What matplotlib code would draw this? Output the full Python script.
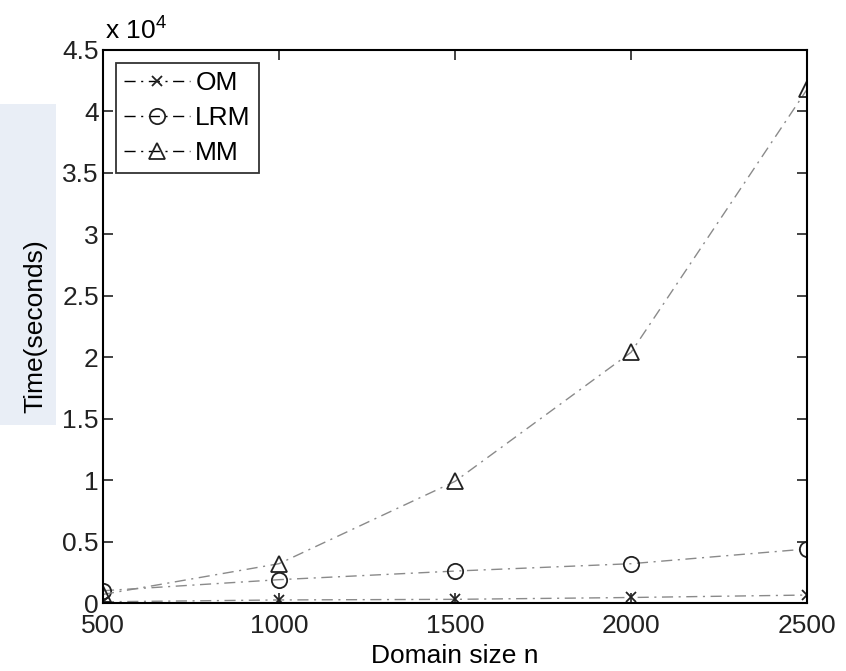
import numpy as np
import matplotlib.pyplot as plt
from matplotlib.patches import Rectangle
from matplotlib.ticker import FuncFormatter

plt.rcParams['font.family'] = ['Liberation Sans', 'DejaVu Sans']
plt.rcParams['mathtext.fontset'] = 'custom'
plt.rcParams['mathtext.rm'] = 'Liberation Sans'
plt.rcParams['mathtext.it'] = 'Liberation Sans'

n = [500, 1000, 1500, 2000, 2500]
om = [100, 250, 300, 450, 650]
lrm = [1000, 1900, 2600, 3200, 4400]
mm = [700, 3200, 9900, 20400, 41800]

fig = plt.figure(figsize=(8.46, 6.71), dpi=100)

# faint watermark band on the left side
band = Rectangle((0, 1 - 425 / 671), 0.066, (425 - 104) / 671,
                 transform=fig.transFigure, facecolor='#e9eef6',
                 edgecolor='none', zorder=-5)
fig.patches.append(band)

ax = fig.add_axes([0.1217, 0.1013, 0.8323, 0.8242])
ax.patch.set_alpha(0)

lc = '#8a8a8a'
dd = (8, 4, 1.5, 4)
ax.plot(n, om, linestyle='-.', dashes=dd, color=lc, lw=1.0, marker='x', ms=7,
        mec='#222222', mew=1.3, label='OM')
ax.plot(n, lrm, linestyle='-.', dashes=dd, color=lc, lw=1.0, marker='o', ms=11,
        mec='#222222', mfc='none', mew=1.3, label='LRM')
ax.plot(n, mm, linestyle='-.', dashes=dd, color=lc, lw=1.0, marker='^', ms=11,
        mec='#222222', mfc='none', mew=1.3, label='MM')

ax.set_xlim(500, 2500)
ax.set_ylim(0, 45000)
ax.set_xticks(n)
ax.set_yticks(np.arange(0, 45001, 5000))
ax.yaxis.set_major_formatter(FuncFormatter(lambda v, p: ('%g' % (v / 1e4))))
ax.tick_params(direction='in', length=7, width=1.2, top=True, right=True,
               labelsize=19, pad=3, colors='#222222')
ax.tick_params(axis='x', pad=8)
for s in ax.spines.values():
    s.set_linewidth(1.5)

ax.set_xlabel('Domain size n', fontsize=19, labelpad=4)
ax.set_ylabel('Time(seconds)', fontsize=19, labelpad=11)
ax.text(0.003, 1.01, 'x 10$^{4}$', transform=ax.transAxes, fontsize=19,
        ha='left', va='bottom')

leg = ax.legend(loc='upper left', fontsize=19, frameon=True, fancybox=False,
                edgecolor='black', handlelength=2.5, borderaxespad=0.5,
                labelspacing=0.42, handletextpad=0.2, borderpad=0.3)
leg.get_frame().set_linewidth(1.3)
for h in leg.get_lines():
    h.set_color('black')

fig.savefig('out.png', dpi=100)
